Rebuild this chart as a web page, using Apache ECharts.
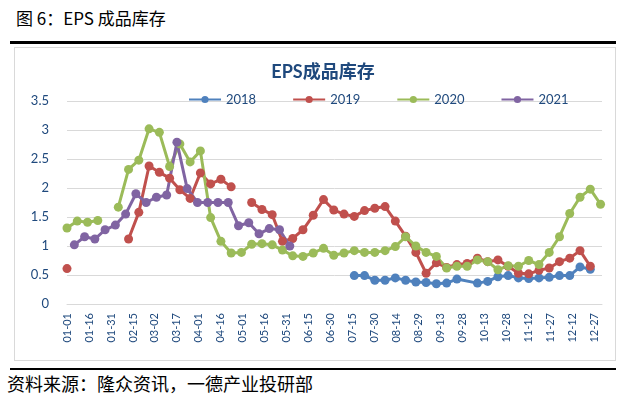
<!DOCTYPE html>
<html>
<head>
<meta charset="utf-8">
<script src="https://cdn.jsdelivr.net/npm/echarts@6/dist/echarts.min.js"></script>
<style>
  html, body { margin: 0; padding: 0; background: #fff; }
  body { width: 624px; height: 397px; position: relative; overflow: hidden; font-family: "Noto Sans CJK SC", sans-serif; }
  .cap { position: absolute; left: 16px; top: 5px; font-size: 17px; line-height: 26px; color: #000; }
  .rule { position: absolute; left: 10px; width: 606px; background: #000; }
  .box { position: absolute; left: 14px; top: 47px; width: 602px; height: 314px; border: 1px solid #d9d9d9; box-sizing: border-box; }
  .src { position: absolute; left: 7px; top: 370px; font-size: 18px; line-height: 26px; color: #000; }
  #chart { position: absolute; left: 0; top: 0; width: 624px; height: 397px; }
</style>
</head>
<body>
<div class="cap">图 6：EPS 成品库存</div>
<div class="rule" style="top:41px;height:3px"></div>
<div class="box"></div>
<div class="rule" style="top:368px;height:2px"></div>
<div class="src">资料来源：隆众资讯，一德产业投研部</div>
<div id="chart"></div>
<script>
// weekly readings, first reading date per year, gaps as null
const years = ['2018', '2019', '2020', '2021']
const colors = ['#4F81BD', '#C0504D', '#9BBB59', '#8064A2']
const startDates = ['07-16', '01-01', '01-01', '01-06']
const v2018 = [0.49, 0.49, 0.41, 0.41, 0.45, 0.41, 0.38, 0.37, 0.35, 0.36, 0.43, null,
  0.36, 0.39, 0.47, 0.49, 0.45, 0.44, 0.45, 0.46, 0.49, 0.49, 0.64, 0.60]
const v2019 = [0.61, null, null, null, null, null, 1.12, 1.58, 2.38, 2.27,
  2.17, 1.97, 1.82, 2.26, 2.07, 2.15, 2.02, null, 1.75, 1.63,
  1.54, 1.08, 1.13, 1.28, 1.53, 1.80, 1.62, 1.55, 1.51, 1.61,
  1.65, 1.68, 1.43, 1.17, 0.89, 0.53, 0.71, 0.63, 0.68, 0.70,
  0.79, 0.73, 0.76, 0.65, 0.53, 0.52, 0.58, 0.62, 0.73, 0.79,
  0.92, 0.65]
const v2020 = [1.31, 1.43, 1.41, 1.44, null, 1.67, 2.32, 2.48, 3.02, 2.96,
  2.37, 2.76, 2.45, 2.64, 1.49, 1.08, 0.88, 0.89, 1.03, 1.04,
  1.02, 0.93, 0.83, 0.82, 0.88, 0.96, 0.84, 0.88, 0.92, 0.89,
  0.89, 0.92, 0.99, 1.16, 1.00, 0.89, 0.82, 0.62, 0.65, 0.65,
  0.76, 0.73, 0.59, 0.66, 0.65, 0.75, 0.68, 0.89, 1.16, 1.56,
  1.84, 1.98, 1.72]
const v2021 = [1.02, 1.16, 1.12, 1.28, 1.36, 1.55, 1.90, 1.75, 1.84, 1.88,
  2.79, 1.99, 1.75, 1.75, 1.75, 1.75, 1.35, 1.40, 1.21, 1.30,
  1.28, 1.00]
const values = [v2018, v2019, v2020, v2021]

const monthDays = [31, 28, 31, 30, 31, 30, 31, 31, 30, 31, 30, 31]
function toDay(s) {
  const m = +s.slice(0, 2), d = +s.slice(3)
  let n = d - 1
  for (let i = 0; i < m - 1; i++) n += monthDays[i]
  return n
}
function toLabel(n) {
  let m = 0
  while (n >= monthDays[m]) { n -= monthDays[m]; m++ }
  return String(m + 1).padStart(2, '0') + '-' + String(n + 1).padStart(2, '0')
}

const txt = '#1F497D'
const font = 'Lato, "Noto Sans CJK SC", sans-serif'
const chart = echarts.init(document.getElementById('chart'))

const series = years.map((y, k) => {
  const s0 = toDay(startDates[k])
  return {
    name: y,
    type: 'line',
    data: values[k].map((v, i) => [s0 + i * 7, v]),
    connectNulls: k === 0,
    symbol: 'circle',
    symbolSize: 9,
    color: colors[k],
    lineStyle: { width: 3 },
    animation: false,
  }
})

chart.setOption({
  textStyle: { fontFamily: font },
  title: {
    text: 'EPS成品库存',
    left: 318,
    textAlign: 'center',
    top: 58,
    textStyle: { color: txt, fontSize: 18, fontWeight: 'bold', fontFamily: font },
  },
  legend: {
    top: 88,
    left: 183,
    itemWidth: 32,
    itemHeight: 9,
    itemGap: 36,
    textStyle: { color: txt, fontSize: 13, fontFamily: font },
    data: years,
  },
  grid: { left: 67, right: 22, top: 101, bottom: 93 },
  xAxis: {
    type: 'value',
    min: 0,
    max: 365,
    interval: 15,
    axisLine: { show: true, lineStyle: { color: '#d9d9d9', width: 1 } },
    axisTick: { show: false },
    splitLine: { show: false },
    axisLabel: {
      rotate: 90,
      color: txt,
      fontSize: 11,
      margin: 9,
      fontFamily: font,
      showMaxLabel: false,
      formatter: v => (v % 15 === 0 && v <= 360 ? toLabel(v) : ''),
    },
  },
  yAxis: {
    type: 'value',
    min: 0,
    max: 3.5,
    interval: 0.5,
    axisLine: { show: false },
    axisTick: { show: false },
    splitLine: { lineStyle: { color: '#d9d9d9', width: 1 } },
    axisLabel: { color: txt, fontSize: 13, margin: 18, fontFamily: font },
  },
  series: series,
})
</script>
</body>
</html>
